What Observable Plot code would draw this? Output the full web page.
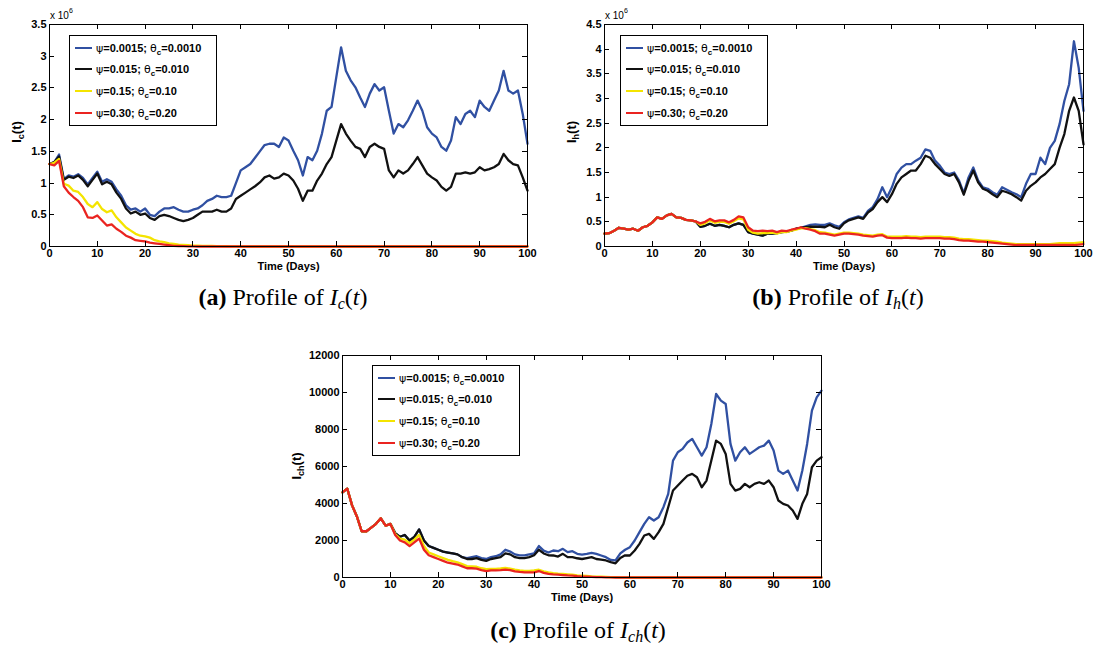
<!DOCTYPE html>
<html>
<head>
<meta charset="utf-8">
<script src="https://cdn.jsdelivr.net/npm/d3@7"></script>
<script src="https://cdn.jsdelivr.net/npm/@observablehq/plot@0.6"></script>
<style>
  html, body { margin: 0; padding: 0; background: #fff; }
  #root { position: relative; width: 1095px; height: 646px; overflow: hidden; background: #fff;
          font-family: "Liberation Sans", Arial, Helvetica, sans-serif; }
  .panel { position: absolute; }
  .panel svg { display: block; }
  .legend { position: absolute; box-sizing: border-box; background: #fff; border: 1px solid #000;
            font-weight: bold; font-size: 11px; color: #000; }
  .legend .row { position: absolute; left: 0; height: 14px; line-height: 14px; white-space: nowrap; }
  .legend .swatch { position: absolute; left: 5px; width: 17px; top: 6px; height: 0; border-top: 2px solid; }
  .legend .txt { position: absolute; left: 26px; top: 0; }
  .legend .g { font-weight: normal; font-family: "DejaVu Sans", sans-serif; font-size: 11px; }
  .legend sub { font-size: 8px; vertical-align: -3px; line-height: 0; }
  .ylab { position: absolute; font-weight: bold; font-size: 13px; white-space: nowrap;
          transform: translate(-50%, -50%) rotate(-90deg); }
  .ylab sub { font-size: 9px; vertical-align: -3px; line-height: 0; }
  .expo { position: absolute; font-size: 10px; white-space: nowrap; }
  .expo sup { font-size: 7px; vertical-align: 6px; line-height: 0; }
  .cap { position: absolute; transform: translate(-50%, -50%); white-space: nowrap;
         font-family: "Liberation Serif", "Times New Roman", serif; font-size: 24px; color: #000; }
  .cap b { font-weight: bold; }
  .cap sub { font-size: 16px; vertical-align: -4px; line-height: 0; font-style: italic; }
</style>
</head>
<body>
<div id="root"></div>
<script>
// ---------------- data ----------------
const days = d3.range(0, 101);          // Time (Days) 0..100
const xTicks = [0, 10, 20, 30, 40, 50, 60, 70, 80, 90, 100];
const yTicksA = [0, 0.5, 1, 1.5, 2, 2.5, 3, 3.5];          // x 10^6
const yTicksB = [0, 0.5, 1, 1.5, 2, 2.5, 3, 3.5, 4, 4.5];  // x 10^6
const yTicksC = [0, 2000, 4000, 6000, 8000, 10000, 12000];

const psiVals = ["0.0015", "0.015", "0.15", "0.30"];
const thetaVals = ["0.0010", "0.010", "0.10", "0.20"];
const seriesKeys = ["s1", "s2", "s3", "s4"];
const seriesColors = ["#3050a2", "#111111", "#f4e400", "#ea2420"];

// Panel (a) I_c(t), millions
const aBlue = [1.30,1.33,1.45,1.06,1.12,1.10,1.14,1.08,0.98,1.08,
  1.18,1.02,1.06,1.02,0.90,0.80,0.65,0.58,0.60,0.55,
  0.60,0.50,0.48,0.55,0.60,0.60,0.62,0.58,0.55,0.55,
  0.58,0.60,0.65,0.72,0.75,0.80,0.78,0.78,0.80,1.00,
  1.20,1.25,1.30,1.40,1.50,1.60,1.62,1.62,1.57,1.72,
  1.67,1.51,1.36,1.12,1.41,1.36,1.51,1.78,2.14,2.20,
  2.67,3.14,2.77,2.62,2.51,2.35,2.20,2.41,2.56,2.46,
  2.51,2.14,1.78,1.93,1.88,1.99,2.14,2.30,2.14,1.88,
  1.78,1.72,1.57,1.51,1.67,2.04,1.93,2.09,2.14,2.04,
  2.30,2.20,2.14,2.30,2.46,2.77,2.46,2.41,2.46,2.09,
  1.62];
const aBlack = [1.30,1.33,1.42,1.05,1.10,1.08,1.12,1.05,0.95,1.05,
  1.15,0.98,1.02,0.98,0.85,0.75,0.60,0.52,0.55,0.50,
  0.52,0.45,0.42,0.48,0.50,0.48,0.45,0.42,0.40,0.42,
  0.45,0.50,0.55,0.55,0.55,0.58,0.55,0.55,0.60,0.75,
  0.80,0.85,0.90,0.95,1.01,1.09,1.12,1.07,1.09,1.15,
  1.12,1.04,0.91,0.72,0.88,0.88,1.04,1.15,1.30,1.41,
  1.67,1.93,1.78,1.67,1.57,1.54,1.41,1.57,1.62,1.57,
  1.54,1.20,1.09,1.20,1.15,1.20,1.30,1.41,1.28,1.15,
  1.09,1.04,0.94,0.88,0.94,1.15,1.15,1.17,1.15,1.17,
  1.25,1.20,1.22,1.25,1.30,1.46,1.36,1.30,1.28,1.09,
  0.88];
const aYellow = [1.30,1.32,1.38,0.99,0.96,0.88,0.86,0.78,0.67,0.62,
  0.70,0.59,0.54,0.57,0.46,0.38,0.30,0.25,0.20,0.17,
  0.16,0.14,0.10,0.08,0.07,0.05,0.04,0.03,0.025,0.02,
  0.015,0.013,0.011,0.01,0.008,0.006,0.005,0.004,0.003,0.002,
  0,0,0,0,0,0,0,0,0,0,
  0,0,0,0,0,0,0,0,0,0,
  0,0,0,0,0,0,0,0,0,0,
  0,0,0,0,0,0,0,0,0,0,
  0,0,0,0,0,0,0,0,0,0,
  0,0,0,0,0,0,0,0,0,0,
  0];
const aRed = [1.30,1.28,1.35,0.95,0.85,0.78,0.72,0.62,0.46,0.45,
  0.49,0.41,0.33,0.35,0.28,0.23,0.17,0.14,0.10,0.09,
  0.08,0.06,0.05,0.04,0.03,0.02,0.01,0.008,0.005,0.003,
  0.002,0,0,0,0,0,0,0,0,0,
  0,0,0,0,0,0,0,0,0,0,
  0,0,0,0,0,0,0,0,0,0,
  0,0,0,0,0,0,0,0,0,0,
  0,0,0,0,0,0,0,0,0,0,
  0,0,0,0,0,0,0,0,0,0,
  0,0,0,0,0,0,0,0,0,0,
  0];

// Panel (b) I_h(t), millions
const bBlue = [0.26,0.27,0.32,0.38,0.36,0.34,0.36,0.32,0.39,0.42,
  0.49,0.59,0.56,0.63,0.66,0.59,0.58,0.54,0.53,0.51,
  0.40,0.42,0.46,0.42,0.44,0.42,0.39,0.44,0.47,0.44,
  0.29,0.26,0.24,0.22,0.26,0.26,0.27,0.29,0.30,0.32,
  0.36,0.38,0.41,0.44,0.45,0.44,0.44,0.47,0.43,0.40,
  0.49,0.55,0.58,0.61,0.58,0.72,0.80,0.96,1.20,1.00,
  1.20,1.47,1.60,1.67,1.67,1.74,1.80,1.97,1.94,1.74,
  1.64,1.50,1.47,1.50,1.34,1.08,1.40,1.60,1.34,1.20,
  1.17,1.10,1.05,1.20,1.15,1.10,1.06,1.00,1.27,1.47,
  1.47,1.80,1.67,2.00,2.14,2.48,2.95,3.29,4.16,3.62,
  2.75];
const bBlack = [0.26,0.27,0.32,0.38,0.36,0.34,0.36,0.32,0.39,0.42,
  0.49,0.59,0.56,0.63,0.66,0.59,0.58,0.54,0.53,0.51,
  0.40,0.42,0.46,0.42,0.44,0.42,0.39,0.44,0.47,0.44,
  0.29,0.26,0.24,0.22,0.26,0.26,0.27,0.29,0.30,0.32,
  0.36,0.38,0.39,0.40,0.40,0.40,0.39,0.44,0.39,0.36,
  0.47,0.53,0.56,0.59,0.56,0.69,0.76,0.90,1.00,0.90,
  1.06,1.27,1.40,1.47,1.54,1.54,1.67,1.84,1.80,1.67,
  1.57,1.47,1.43,1.47,1.30,1.05,1.33,1.54,1.30,1.17,
  1.13,1.06,1.00,1.13,1.10,1.06,1.00,0.93,1.13,1.23,
  1.30,1.40,1.47,1.57,1.67,2.00,2.28,2.75,3.02,2.75,
  2.07];
const bYellow = [0.26,0.27,0.32,0.38,0.36,0.34,0.36,0.32,0.39,0.42,
  0.49,0.59,0.56,0.63,0.66,0.59,0.58,0.54,0.53,0.51,
  0.44,0.47,0.53,0.48,0.50,0.50,0.46,0.51,0.57,0.55,
  0.34,0.28,0.26,0.27,0.27,0.28,0.26,0.29,0.29,0.32,
  0.34,0.37,0.37,0.35,0.33,0.29,0.28,0.26,0.24,0.26,
  0.28,0.28,0.27,0.26,0.24,0.23,0.22,0.24,0.25,0.20,
  0.20,0.20,0.20,0.21,0.20,0.20,0.19,0.20,0.20,0.20,
  0.20,0.19,0.19,0.18,0.16,0.15,0.15,0.14,0.13,0.12,
  0.12,0.11,0.10,0.08,0.07,0.06,0.05,0.05,0.05,0.05,
  0.05,0.05,0.05,0.05,0.06,0.07,0.07,0.07,0.07,0.08,
  0.09];
const bRed = [0.26,0.27,0.32,0.38,0.36,0.34,0.36,0.32,0.39,0.42,
  0.49,0.59,0.56,0.63,0.66,0.59,0.58,0.54,0.53,0.51,
  0.47,0.50,0.56,0.51,0.53,0.53,0.49,0.54,0.61,0.59,
  0.39,0.32,0.31,0.32,0.31,0.32,0.29,0.32,0.31,0.34,
  0.36,0.39,0.36,0.34,0.31,0.26,0.26,0.24,0.22,0.24,
  0.26,0.26,0.25,0.24,0.22,0.21,0.20,0.22,0.23,0.18,
  0.17,0.17,0.17,0.18,0.17,0.17,0.16,0.17,0.17,0.17,
  0.17,0.16,0.16,0.15,0.13,0.12,0.12,0.11,0.10,0.10,
  0.09,0.08,0.07,0.06,0.05,0.04,0.03,0.03,0.03,0.03,
  0.03,0.03,0.03,0.03,0.03,0.03,0.03,0.03,0.03,0.04,
  0.05];

// Panel (c) I_ch(t)
const cBlue = [4600,4800,3900,3300,2500,2500,2700,2900,3200,2800,
  2900,2400,2200,2300,2000,2200,2600,2000,1700,1600,
  1500,1400,1350,1300,1250,1100,1050,1100,1150,1050,
  1000,1100,1150,1250,1500,1400,1250,1200,1200,1250,
  1300,1700,1450,1350,1460,1420,1550,1370,1420,1280,
  1240,1280,1330,1280,1190,1100,950,920,1300,1500,
  1640,2000,2450,2900,3260,3080,3260,3800,4520,6320,
  6770,6950,7300,7490,7040,6590,7040,8300,9920,9560,
  9380,7220,6320,6770,7040,6680,6860,7040,7130,7400,
  6860,5780,5600,5780,5240,4700,5780,7220,9020,9740,
  10100];
const cBlack = [4600,4800,3900,3300,2500,2500,2700,2900,3200,2800,
  2900,2400,2200,2300,2000,2200,2600,2000,1700,1600,
  1500,1400,1350,1300,1250,1100,1000,1000,1050,950,
  900,1000,1050,1100,1300,1250,1100,1050,1050,1100,
  1200,1500,1300,1200,1190,1130,1280,1100,1100,1040,
  1000,1050,1100,1000,970,920,830,770,1050,1200,
  1190,1460,1820,2270,2360,2090,2450,2900,3800,4700,
  4970,5240,5500,5600,5420,4880,5240,6320,7400,7220,
  6680,5060,4700,4790,5060,4880,5060,5150,5060,5240,
  4880,4160,3980,3890,3620,3170,3980,4520,5960,6320,
  6500];
const cYellow = [4600,4800,3900,3300,2500,2500,2700,2900,3200,2800,
  2900,2350,2100,2050,1850,2050,2300,1700,1350,1250,
  1150,1050,950,880,820,720,620,600,580,500,
  450,470,470,490,520,480,420,380,360,360,
  380,420,330,280,240,210,190,170,150,120,
  100,80,60,50,40,30,20,15,10,5,
  0,0,0,0,0,0,0,0,0,0,
  0,0,0,0,0,0,0,0,0,0,
  0,0,0,0,0,0,0,0,0,0,
  0,0,0,0,0,0,0,0,0,0,
  0];
const cRed = [4600,4800,3900,3300,2500,2500,2700,2900,3200,2800,
  2900,2300,2000,1900,1700,1900,2100,1500,1200,1100,
  1000,900,800,750,700,600,500,500,480,400,
  350,380,380,400,430,400,330,300,280,280,
  280,350,250,200,170,150,130,110,100,70,
  50,40,30,20,15,10,5,0,0,0,
  0,0,0,0,0,0,0,0,0,0,
  0,0,0,0,0,0,0,0,0,0,
  0,0,0,0,0,0,0,0,0,0,
  0,0,0,0,0,0,0,0,0,0,
  0];

// ---------------- drawing ----------------
const root = document.getElementById("root");

function innerTicks(xt, yt, len) {
  return (index, scales, values, dims) => {
    const left = dims.marginLeft, right = dims.width - dims.marginRight;
    const top = dims.marginTop, bottom = dims.height - dims.marginBottom;
    const g = d3.create("svg:g").attr("stroke", "#000").attr("stroke-width", 1).attr("fill", "none");
    for (const t of xt) {
      const x = Math.round(scales.x(t)) + 0.5;
      g.append("line").attr("x1", x).attr("x2", x).attr("y1", bottom).attr("y2", bottom - len);
      g.append("line").attr("x1", x).attr("x2", x).attr("y1", top).attr("y2", top + len);
    }
    for (const t of yt) {
      const y = Math.round(scales.y(t)) + 0.5;
      g.append("line").attr("y1", y).attr("y2", y).attr("x1", left).attr("x2", left + len);
      g.append("line").attr("y1", y).attr("y2", y).attr("x1", right).attr("x2", right - len);
    }
    return g.node();
  };
}

function makePanel(p) {
  const rows = [];
  p.series.forEach((vals, i) => vals.forEach((v, j) => rows.push({day: days[j], value: v, series: seriesKeys[i]})));
  const svg = Plot.plot({
    width: p.width, height: 275,
    marginLeft: p.ml, marginRight: p.mr, marginTop: 24, marginBottom: 29,
    style: {fontFamily: '"Liberation Sans", Arial, Helvetica, sans-serif', fontSize: "11px",
            fontWeight: "bold", background: "transparent", color: "#000", overflow: "visible"},
    x: {domain: [0, 100], ticks: xTicks, tickSize: 0, tickPadding: 3, label: null, tickFormat: d => String(d)},
    y: {domain: [0, p.ymax], ticks: p.yTicks, tickSize: 0, tickPadding: 3, label: null, tickFormat: d => String(d)},
    color: {domain: seriesKeys, range: seriesColors},
    marks: [
      Plot.line(rows, {x: "day", y: "value", z: "series", stroke: "series", strokeWidth: 2.3, strokeLinejoin: "round"}),
      Plot.frame({stroke: "#000", strokeWidth: 1}),
      innerTicks(xTicks, p.yTicks, 5),
      Plot.text(["Time (Days)"], {frameAnchor: "bottom", dy: 23, text: d => d, fontWeight: "bold", fontSize: 11, fill: "#000"})
    ]
  });
  const wrap = document.createElement("div");
  wrap.className = "panel";
  wrap.style.left = p.left + "px";
  wrap.style.top = p.top + "px";
  wrap.style.width = p.width + "px";
  wrap.style.height = "275px";
  wrap.appendChild(svg);

  // legend
  const lg = document.createElement("div");
  lg.className = "legend";
  Object.assign(lg.style, {left: p.legend[0] + "px", top: p.legend[1] + "px", width: "148px", height: "91px"});
  psiVals.forEach((psi, i) => {
    const row = document.createElement("div");
    row.className = "row";
    row.style.top = (4.7 + i * 21.7) + "px";
    row.style.width = "100%";
    row.innerHTML = `<div class="swatch" style="border-color:${seriesColors[i]}"></div>` +
      `<span class="txt"><span class="g">ψ</span>=${psi}; <span class="g">θ</span><sub>c</sub>=${thetaVals[i]}</span>`;
    lg.appendChild(row);
  });
  wrap.appendChild(lg);

  // y label
  const yl = document.createElement("div");
  yl.className = "ylab";
  yl.style.left = p.ylab[0] + "px";
  yl.style.top = p.ylab[1] + "px";
  yl.innerHTML = p.ylabHtml;
  wrap.appendChild(yl);

  if (p.expo) {
    const ex = document.createElement("div");
    ex.className = "expo";
    ex.style.left = "50px";
    ex.style.top = "10px";
    ex.innerHTML = "x 10<sup>6</sup>";
    wrap.appendChild(ex);
  }
  root.appendChild(wrap);
}

makePanel({left: 0, top: 0, width: 540, ml: 49, mr: 13, ymax: 3.5, yTicks: yTicksA,
  series: [aBlue, aBlack, aYellow, aRed], legend: [69, 35], ylab: [16, 132],
  ylabHtml: "I<sub>c</sub>(t)", expo: true});
makePanel({left: 555, top: 0, width: 540, ml: 49, mr: 12, ymax: 4.5, yTicks: yTicksB,
  series: [bBlue, bBlack, bYellow, bRed], legend: [65, 35], ylab: [16, 132],
  ylabHtml: "I<sub>h</sub>(t)", expo: true});
makePanel({left: 290, top: 331, width: 544, ml: 52, mr: 13, ymax: 12000, yTicks: yTicksC,
  series: [cBlue, cBlack, cYellow, cRed], legend: [82, 34], ylab: [6, 135],
  ylabHtml: "I<sub>ch</sub>(t)", expo: false});

// captions
const captions = [
  {x: 283, y: 297, html: '<b>(a)</b> Profile of <i>I</i><sub>c</sub>(<i>t</i>)'},
  {x: 838, y: 297, html: '<b>(b)</b> Profile of <i>I</i><sub>h</sub>(<i>t</i>)'},
  {x: 578, y: 630, html: '<b>(c)</b> Profile of <i>I</i><sub>ch</sub>(<i>t</i>)'}
];
captions.forEach(c => {
  const d = document.createElement("div");
  d.className = "cap";
  d.style.left = c.x + "px";
  d.style.top = c.y + "px";
  d.innerHTML = c.html;
  root.appendChild(d);
});
</script>
</body>
</html>
